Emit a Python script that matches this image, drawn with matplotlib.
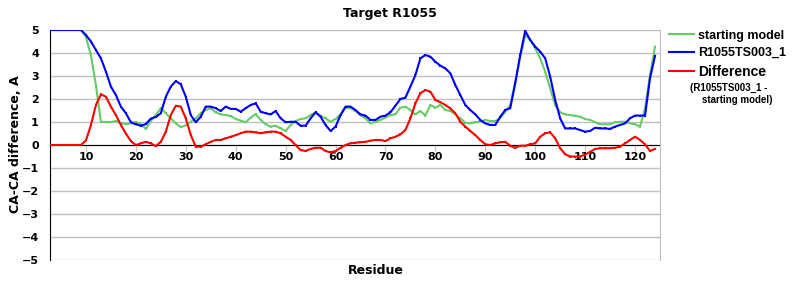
"""
CA-CA difference per residue for target R1055: starting model vs R1055TS003_1.
Writes out.png (800x300).
"""

import numpy as np
import matplotlib.pyplot as plt


# ---------------------------------------------------------------------
# Data, residues 3..124
# ---------------------------------------------------------------------

residues = list(range(3, 125))

starting_model = [
    5.0, 5.0, 5.0, 5.0, 5.0, 5.0, 5.0,                              # 3-9
    4.7, 3.9, 2.6, 1.0, 1.0, 1.0, 1.04, 0.94, 0.91, 0.94,           # 10-19
    1.0, 0.9, 0.7, 1.05, 1.3, 1.6, 1.38, 1.16, 0.94, 0.78,          # 20-29
    0.85, 1.01, 1.16, 1.38, 1.52, 1.6, 1.42, 1.33, 1.3, 1.26,       # 30-39
    1.13, 1.06, 0.99, 1.19, 1.35, 1.09, 0.9, 0.8, 0.84, 0.72,       # 40-49
    0.61, 0.87, 1.04, 1.13, 1.16, 1.3, 1.42, 1.28, 1.16, 1.01,      # 50-59
    1.13, 1.33, 1.62, 1.6, 1.48, 1.29, 1.16, 0.94, 1.01, 1.09,      # 60-69
    1.19, 1.3, 1.33, 1.62, 1.67, 1.52, 1.33, 1.48, 1.28, 1.74,      # 70-79
    1.62, 1.74, 1.52, 1.48, 1.33, 1.16, 0.97, 0.94, 0.99, 1.01,     # 80-89
    1.09, 1.04, 1.04, 1.16, 1.45, 1.74, 2.75, 3.84, 4.78, 4.57,     # 90-99
    4.2, 3.77, 3.19, 2.46, 1.74, 1.42, 1.33, 1.3, 1.28, 1.23,       # 100-109
    1.13, 1.09, 0.99, 0.9, 0.9, 0.9, 0.99, 1.01, 1.01, 0.94,        # 110-119
    0.9, 0.8, 1.59, 3.04, 4.28,                                     # 120-124
]

ts003 = [
    5.0, 5.0, 5.0, 5.0, 5.0, 5.0, 5.0,                              # 3-9
    4.78, 4.5, 4.13, 3.77, 3.19, 2.54, 2.17, 1.67, 1.38, 0.99,      # 10-19
    0.9, 0.84, 0.91, 1.15, 1.22, 1.38, 2.1, 2.54, 2.78, 2.64,       # 20-29
    2.1, 1.3, 0.99, 1.23, 1.67, 1.67, 1.6, 1.48, 1.67, 1.57,        # 30-39
    1.57, 1.45, 1.6, 1.74, 1.81, 1.45, 1.38, 1.33, 1.48, 1.16,      # 40-49
    0.99, 1.01, 1.01, 0.84, 0.84, 1.16, 1.42, 1.23, 0.87, 0.61,     # 50-59
    0.8, 1.3, 1.67, 1.67, 1.52, 1.33, 1.28, 1.09, 1.09, 1.23,       # 60-69
    1.28, 1.42, 1.71, 2.0, 2.06, 2.54, 3.04, 3.77, 3.91, 3.84,      # 70-79
    3.62, 3.45, 3.33, 3.12, 2.61, 2.17, 1.74, 1.52, 1.33, 1.09,     # 80-89
    0.94, 0.87, 0.87, 1.23, 1.52, 1.6, 2.68, 3.91, 4.96, 4.57,      # 90-99
    4.28, 4.06, 3.77, 2.97, 1.96, 1.16, 0.72, 0.72, 0.72, 0.65,     # 100-109
    0.58, 0.61, 0.75, 0.72, 0.72, 0.7, 0.8, 0.87, 0.94, 1.16,       # 110-119
    1.28, 1.28, 1.28, 2.9, 3.88,                                    # 120-124
]

difference = [
    0.0, 0.0, 0.0, 0.0, 0.0, 0.0, 0.0,                              # 3-9
    0.2, 0.87, 1.74, 2.2, 2.1, 1.67, 1.3, 0.87, 0.5, 0.17,          # 10-19
    0.0, 0.07, 0.14, 0.07, -0.05, 0.14, 0.58, 1.3, 1.71, 1.67,      # 20-29
    1.16, 0.43, -0.07, -0.07, 0.03, 0.14, 0.22, 0.22, 0.29, 0.36,   # 30-39
    0.43, 0.51, 0.58, 0.58, 0.55, 0.51, 0.55, 0.58, 0.58, 0.51,     # 40-49
    0.36, 0.22, 0.0, -0.22, -0.26, -0.17, -0.12, -0.12, -0.26, -0.32,  # 50-59
    -0.26, -0.12, 0.0, 0.07, 0.1, 0.12, 0.14, 0.19, 0.22, 0.22,     # 60-69
    0.17, 0.29, 0.36, 0.46, 0.65, 1.16, 1.81, 2.25, 2.39, 2.32,     # 70-79
    1.96, 1.86, 1.74, 1.59, 1.38, 1.01, 0.8, 0.61, 0.43, 0.22,      # 80-89
    0.03, 0.0, 0.07, 0.12, 0.14, -0.03, -0.12, -0.03, -0.03, 0.03,  # 90-99
    0.07, 0.36, 0.51, 0.55, 0.29, -0.14, -0.4, -0.5, -0.5, -0.5,    # 100-109
    -0.42, -0.3, -0.17, -0.14, -0.14, -0.14, -0.12, -0.07, 0.07, 0.22,  # 110-119
    0.36, 0.22, 0.03, -0.26, -0.17,                                 # 120-124
]

x_ticks = list(range(10, 130, 10))
y_ticks = list(range(-5, 6))

GREEN = "#66cc66"
BLUE = "#0000ff"
RED = "#ff0000"


# ---------------------------------------------------------------------
# Plot
# ---------------------------------------------------------------------

def main() -> None:
    fig = plt.figure(figsize=(8, 3), dpi=100)
    ax = fig.add_axes([0.0625, 0.1333, 0.7625, 0.7667])

    x = np.array(residues)
    style = dict(linewidth=1.5, marker="s", markersize=1.8, markeredgewidth=0)
    ax.plot(x, starting_model, color=GREEN, label="starting model", zorder=3, **style)
    ax.plot(x, ts003, color=BLUE, label="R1055TS003_1", zorder=4, **style)
    ax.plot(x, difference, color=RED, label="Difference", zorder=5, **style)

    ax.set_xlim(2.8, 125)
    ax.set_ylim(-5, 5)
    ax.set_xticks(x_ticks)
    ax.set_yticks(y_ticks)
    ax.set_yticklabels([str(v).replace("-", "\u2212") for v in y_ticks])

    # grid + frame
    ax.grid(axis="y", color="#c0c0c0", linewidth=1)
    ax.set_axisbelow(True)
    ax.spines["bottom"].set_position(("data", 0))
    ax.spines["bottom"].set_color("black")
    ax.spines["bottom"].set_zorder(2)
    ax.spines["left"].set_color("black")
    ax.spines["right"].set_color("#c0c0c0")
    ax.spines["top"].set_visible(False)

    ax.tick_params(axis="x", direction="out", length=4, color="#c0c0c0", pad=1,
                   labelsize=8)
    ax.tick_params(axis="y", length=0, pad=8, labelsize=8)
    for lab in ax.get_xticklabels() + ax.get_yticklabels():
        lab.set_fontweight("bold")

    # texts
    fig.text(0.4875, 0.955, "Target R1055", ha="center", va="center",
             fontsize=9, fontweight="bold")
    fig.text(0.47, 0.1, "Residue", ha="center", va="center",
             fontsize=9, fontweight="bold")
    fig.text(0.02, 0.52, "CA-CA difference, A", ha="center", va="center",
             rotation=90, fontsize=9, fontweight="bold")

    leg = fig.legend(loc="upper left", bbox_to_anchor=(0.830, 0.918), frameon=False,
                     handlelength=2.0, handletextpad=0.35, labelspacing=0.45,
                     prop={"family": "Liberation Sans", "weight": "bold", "size": 9},
                     borderaxespad=0)
    leg.get_texts()[2].set_fontsize(10)
    small = {"family": "Liberation Sans", "size": 7, "weight": "bold"}
    fig.text(0.862, 0.706, "(R1055TS003_1 -", fontdict=small, va="center", ha="left")
    fig.text(0.877, 0.668, "starting model)", fontdict=small, va="center", ha="left")

    fig.savefig("out.png", dpi=100, facecolor="white")


if __name__ == "__main__":
    main()
